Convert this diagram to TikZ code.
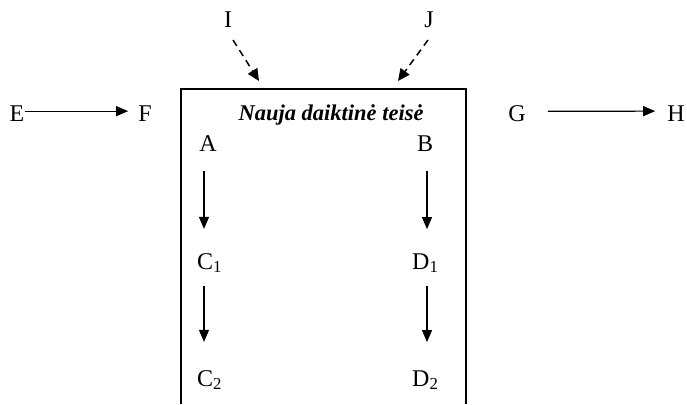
\documentclass[tikz,border=0pt]{standalone}
\usepackage{fontspec}
\setmainfont{Liberation Serif}
\usetikzlibrary{arrows.meta}

\tikzset{
  lbl/.style={inner sep=0pt, anchor=base, font=\fontsize{24}{28}\selectfont},
  arr/.style={-{Triangle[length=12pt,width=10pt]}, line width=1.2pt},
  dasharr/.style={-{Triangle[length=12pt,width=11pt]}, line width=1.5pt, dash pattern=on 7pt off 5pt},
}

\begin{document}
\begin{tikzpicture}[x=1pt,y=-1pt]
\useasboundingbox (0,0) rectangle (687,404);

% the box, open at the bottom
\draw[line width=1.5pt] (181,404) -- (181,89) -- (466,89) -- (466,404);

\node[lbl] (E) at (17,121) {E};
\node[lbl] (F) at (145,121) {F};
\node[lbl] (G) at (517,121) {G};
\node[lbl] (H) at (676,121) {H};
\node[lbl] (I) at (228,28) {I};
\node[lbl] (J) at (429,28) {J};
\node[lbl, font=\fontsize{22.5}{27}\selectfont\bfseries\itshape] (title) at (331,120) {Nauja daiktinė teisė};

\node[lbl] (A) at (208,151) {A};
\node[lbl] (B) at (425,151) {B};
\node[lbl, anchor=base west] (C1) at (197,269) {C\textsubscript{1}};
\node[lbl, anchor=base west] (D1) at (412,269) {D\textsubscript{1}};
\node[lbl, anchor=base west] (C2) at (197,386) {C\textsubscript{2}};
\node[lbl, anchor=base west] (D2) at (412,386) {D\textsubscript{2}};

\coordinate (i0) at (233,40);
\coordinate (i1) at (259,81);
\coordinate (j0) at (428,40);
\coordinate (j1) at (398,81);
\draw[dasharr] (i0) -- (i1);
\draw[dasharr] (j0) -- (j1);

\draw[arr, shorten >=10pt] ([yshift=2pt]E.east) -- ([yshift=2pt]F.west);
\draw[arr, shorten <=22pt, shorten >=12pt] ([yshift=2pt]G.east) -- ([yshift=2pt]H.west);

\draw[arr, shorten <=20pt, shorten >=24pt] ([xshift=-4pt]A.south) -- ([xshift=-4pt]A.south |- C1.north);
\draw[arr, shorten <=13pt, shorten >=28pt] ([xshift=-4pt]A.south |- C1.south) -- ([xshift=-4pt]A.south |- C2.north);
\draw[arr, shorten <=20pt, shorten >=24pt] ([xshift=2pt]B.south) -- ([xshift=2pt]B.south |- D1.north);
\draw[arr, shorten <=13pt, shorten >=28pt] ([xshift=2pt]B.south |- D1.south) -- ([xshift=2pt]B.south |- D2.north);
\end{tikzpicture}
\end{document}
